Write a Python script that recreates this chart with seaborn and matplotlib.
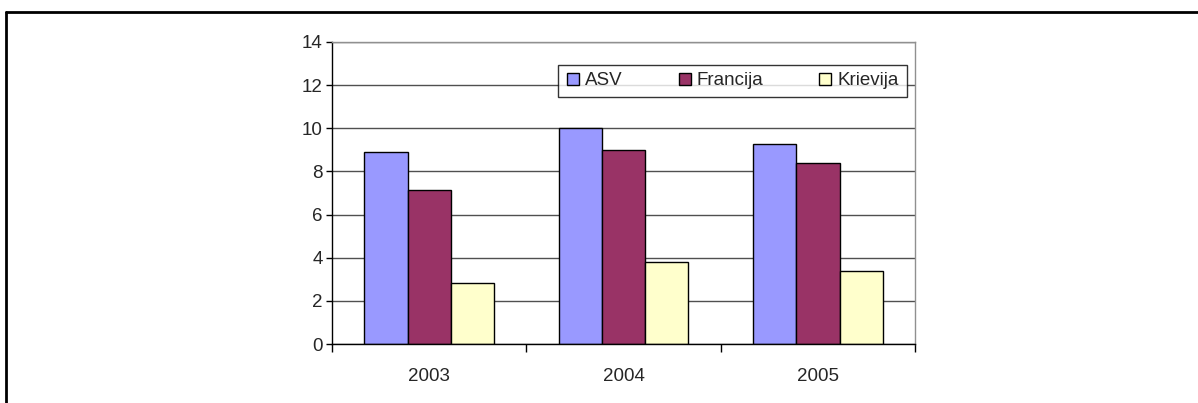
import pandas as pd
import seaborn as sns
import matplotlib.pyplot as plt
from matplotlib.lines import Line2D

years = ["2003", "2004", "2005"]
countries = ["ASV", "Francija", "Krievija"]
asv = [8.9, 10.0, 9.25]
francija = [7.15, 9.0, 8.4]
krievija = [2.85, 3.8, 3.4]
colors = ["#9999FF", "#993366", "#FFFFCC"]

df = pd.DataFrame({
    "year": years * 3,
    "country": [c for c in countries for _ in years],
    "value": asv + francija + krievija,
})

sns.set_theme(style="white")
plt.rcParams["font.family"] = ["Liberation Sans", "DejaVu Sans"]

fig = plt.figure(figsize=(11.98, 4.03), dpi=100)
ax = fig.add_axes([0.277, 0.1464, 0.487, 0.7496])

sns.barplot(data=df, x="year", y="value", hue="country", order=years,
            hue_order=countries, palette=colors, width=0.665,
            edgecolor="black", linewidth=1, saturation=1, ax=ax)

ax.set_ylim(0, 14)
ax.set_xlim(-0.5, 2.5)
ax.set_yticks(range(0, 15, 2))
ax.yaxis.grid(True, color="#505050", linewidth=1)
ax.set_axisbelow(True)
ax.set_xlabel("")
ax.set_ylabel("")

# category boundaries as major ticks, labels on minor ticks
ax.set_xticks([-0.5, 0.5, 1.5, 2.5])
ax.set_xticklabels([])
ax.set_xticks([0, 1, 2], minor=True)
ax.set_xticklabels(years, minor=True)
ax.tick_params(axis="x", which="major", direction="out", length=6,
               width=1, color="black", bottom=True)
ax.tick_params(axis="x", which="minor", length=0, pad=17, labelsize=13.5)
ax.tick_params(axis="y", direction="out", length=4.5, width=1,
               color="black", left=True, pad=2, labelsize=13.5)

for s in ["top", "right"]:
    ax.spines[s].set_color("#909090")
    ax.spines[s].set_linewidth(1)
for s in ["left", "bottom"]:
    ax.spines[s].set_color("black")
    ax.spines[s].set_linewidth(1)

ax.legend_.remove()
handles = [Line2D([], [], marker="s", linestyle="", markersize=9,
                  markerfacecolor=c, markeredgecolor="black",
                  markeredgewidth=1) for c in colors]
leg = ax.legend(handles, countries, loc="upper right",
                bbox_to_anchor=(0.985, 0.924), borderaxespad=0, ncol=3,
                frameon=True, fancybox=False, fontsize=13.5,
                handlelength=0.8, handletextpad=0.25, columnspacing=2.9,
                borderpad=0.4)
leg.get_frame().set_edgecolor("black")
leg.get_frame().set_linewidth(1)

# page frame around the chart
fig.add_artist(Line2D([0.005, 1.0], [0.970, 0.970], color="black",
                      linewidth=2, transform=fig.transFigure))
fig.add_artist(Line2D([0.005, 0.005], [0.0, 0.970], color="black",
                      linewidth=2, transform=fig.transFigure))

fig.savefig("out.png", dpi=100)
